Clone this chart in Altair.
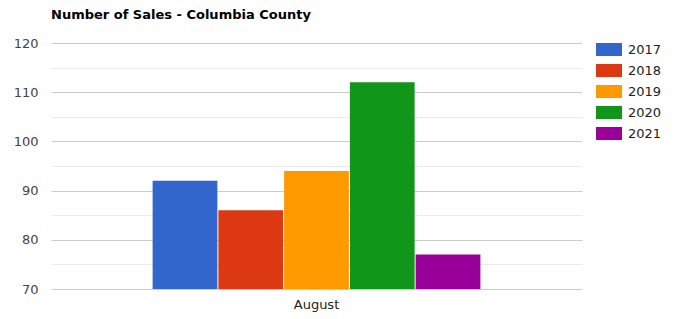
import altair as alt
import pandas as pd

months = ["August"] * 5
years = ["2017", "2018", "2019", "2020", "2021"]
sales = [92, 86, 94, 112, 77]
colors = ["#3366cc", "#dc3912", "#ff9900", "#109618", "#990099"]

df = pd.DataFrame({"month": months, "year": years, "sales": sales})

FONT = "DejaVu Sans"

chart = alt.Chart(df).mark_bar().encode(
    x=alt.X("month:N", title=None,
            scale=alt.Scale(paddingInner=0, paddingOuter=0.31),
            axis=alt.Axis(labelAngle=0, domain=False, ticks=False, labelPadding=9,
                          labelFont=FONT, labelFontSize=13, labelColor="#222222")),
    xOffset=alt.XOffset("year:N", scale=alt.Scale(paddingInner=0.015, paddingOuter=0)),
    y=alt.Y("sales:Q", title=None,
            scale=alt.Scale(domain=[70, 120], zero=False, nice=False),
            axis=alt.Axis(values=[70, 75, 80, 85, 90, 95, 100, 105, 110, 115, 120],
                          labelExpr="datum.value % 10 === 0 ? datum.label : ''",
                          domain=False, ticks=False, labelPadding=13,
                          labelFont=FONT, labelFontSize=13, labelColor="#444444",
                          gridColor={"condition": {"test": "datum.value % 10 === 0", "value": "#cccccc"},
                                     "value": "#ebebeb"},
                          gridWidth=1)),
    y2=alt.datum(70),
    color=alt.Color("year:N", title=None,
                    scale=alt.Scale(domain=years, range=colors),
                    legend=alt.Legend(orient="none", legendX=551.5, legendY=0,
                                      symbolType="M-2,-1H2V1H-2Z", symbolSize=169,
                                      symbolStrokeWidth=0, symbolOpacity=1,
                                      labelOffset=12.5, rowPadding=7,
                                      labelFont=FONT, labelFontSize=13, labelColor="#222222")),
).properties(
    width=531,
    height=246,
    title=alt.TitleParams("Number of Sales - Columbia County", anchor="start", frame="group",
                          font=FONT, fontSize=13, fontWeight="bold", color="#000000", offset=15),
    autosize=alt.AutoSizeParams(type="none"),
    padding={"left": 51, "top": 43, "right": 93, "bottom": 30},
).configure_view(stroke=None)

chart.save("out.html", embed_options={"renderer": "svg", "actions": False})
